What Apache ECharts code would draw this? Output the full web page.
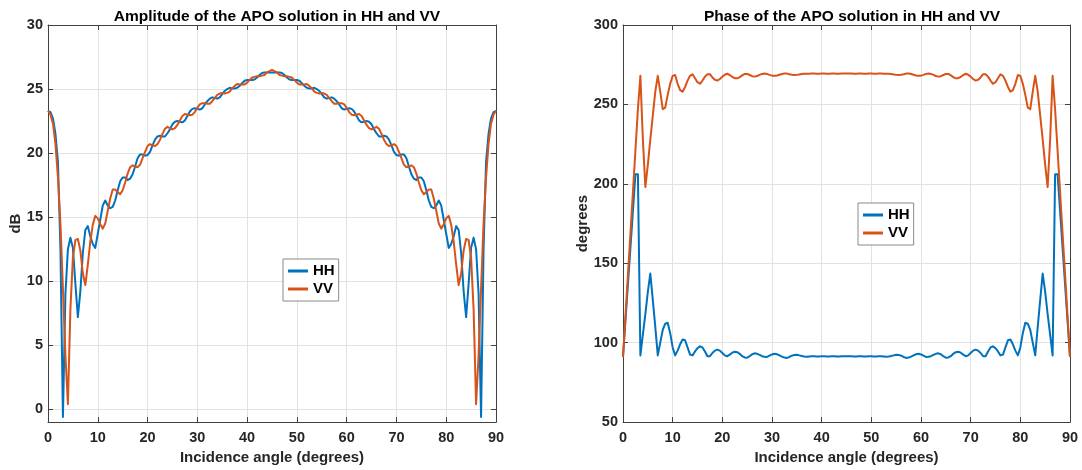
<!DOCTYPE html>
<html><head><meta charset="utf-8">
<script src="https://cdn.jsdelivr.net/npm/echarts@6/dist/echarts.min.js"></script>
<style>html,body{margin:0;padding:0;background:#fff}#c{width:1082px;height:470px}</style>
</head><body><div id="c"></div>
<script>
// Incidence angle (degrees)
const angles = [
0,0.5,1,1.5,2,2.5,3,3.5,4,4.5,5,5.5,6,6.5,7,7.5,8,8.5,9,9.5,
10,10.5,11,11.5,12,12.5,13,13.5,14,14.5,15,15.5,16,16.5,17,17.5,18,18.5,19,19.5,
20,20.5,21,21.5,22,22.5,23,23.5,24,24.5,25,25.5,26,26.5,27,27.5,28,28.5,29,29.5,
30,30.5,31,31.5,32,32.5,33,33.5,34,34.5,35,35.5,36,36.5,37,37.5,38,38.5,39,39.5,
40,40.5,41,41.5,42,42.5,43,43.5,44,44.5,45,45.5,46,46.5,47,47.5,48,48.5,49,49.5,
50,50.5,51,51.5,52,52.5,53,53.5,54,54.5,55,55.5,56,56.5,57,57.5,58,58.5,59,59.5,
60,60.5,61,61.5,62,62.5,63,63.5,64,64.5,65,65.5,66,66.5,67,67.5,68,68.5,69,69.5,
70,70.5,71,71.5,72,72.5,73,73.5,74,74.5,75,75.5,76,76.5,77,77.5,78,78.5,79,79.5,
80,80.5,81,81.5,82,82.5,83,83.5,84,84.5,85,85.5,86,86.5,87,87.5,88,88.5,89,89.5,90];

// Amplitude (dB)
const ampHH = [
23.3,23.2,22.7,21.5,19.3,12.5,-0.6,9.0,12.5,13.4,12.6,9.8,7.2,9.2,12.2,14.0,14.3,13.5,12.9,12.6,
13.7,14.8,15.9,16.3,15.9,15.7,15.8,16.3,17.1,17.8,18.1,18.1,17.9,18.0,18.35,18.95,19.6,19.9,19.9,19.8,
19.85,20.1,20.6,21.05,21.3,21.35,21.3,21.3,21.55,21.85,22.25,22.45,22.5,22.45,22.4,22.55,22.9,23.25,23.45,23.5,
23.45,23.4,23.5,23.8,24.05,24.25,24.35,24.3,24.25,24.35,24.6,24.85,25.0,25.1,25.05,25.05,25.1,25.25,25.45,25.65,
25.7,25.7,25.7,25.75,25.9,26.1,26.25,26.3,26.3,26.3,26.3,
26.3,26.3,26.3,26.25,26.1,25.9,25.75,25.7,25.7,25.7,25.65,25.45,25.25,25.1,25.05,25.05,25.1,25.0,24.85,24.6,
24.35,24.25,24.3,24.35,24.25,24.05,23.8,23.5,23.4,23.45,23.5,23.45,23.25,22.9,22.55,22.4,22.45,22.5,22.45,22.25,
21.85,21.55,21.3,21.3,21.35,21.3,21.05,20.6,20.1,19.85,19.8,19.9,19.9,19.6,18.95,18.35,18.0,17.9,18.1,18.1,
17.8,17.1,16.3,15.8,15.7,15.9,16.3,15.9,14.8,13.7,12.6,12.9,13.5,14.3,14.0,12.2,9.2,7.2,9.8,12.6,
13.4,12.5,9.0,-0.6,12.5,19.3,21.5,22.7,23.2,23.3];

const ampVV = [
23.3,23.0,22.3,20.7,18.1,14.5,9.4,4.2,0.4,7.8,11.8,13.2,13.3,12.4,10.6,9.7,11.3,13.1,14.4,15.1,
14.9,14.45,14.1,14.5,15.5,16.45,17.15,17.15,16.95,16.8,17.1,17.7,18.4,18.9,19.05,18.95,18.9,19.1,19.6,20.1,
20.55,20.7,20.6,20.55,20.7,21.05,21.5,21.9,22.05,21.95,21.85,21.95,22.2,22.55,22.9,23.05,23.0,22.95,23.0,23.2,
23.55,23.8,23.9,23.9,23.85,23.85,24.05,24.3,24.55,24.65,24.7,24.65,24.7,24.8,25.05,25.25,25.4,25.35,25.35,25.35,
25.5,25.7,25.9,25.95,26.0,26.0,26.05,26.1,26.3,26.4,26.5,
26.4,26.3,26.1,26.05,26.0,26.0,25.95,25.9,25.7,25.5,25.35,25.35,25.35,25.4,25.25,25.05,24.8,24.7,24.65,24.7,
24.65,24.55,24.3,24.05,23.85,23.85,23.9,23.9,23.8,23.55,23.2,23.0,22.95,23.0,23.05,22.9,22.55,22.2,21.95,21.85,
21.95,22.05,21.9,21.5,21.05,20.7,20.55,20.6,20.7,20.55,20.1,19.6,19.1,18.9,18.95,19.05,18.9,18.4,17.7,17.1,
16.8,16.95,17.15,17.15,16.45,15.5,14.5,14.1,14.45,14.9,15.1,14.4,13.1,11.3,9.7,10.6,12.4,13.3,13.2,11.8,
7.8,0.4,4.2,9.4,14.5,18.1,20.7,22.3,23.0,23.3];

// Phase (degrees)
const phaseHH = [
91,114,137,160,183,206,206,92,105,118,132,143.5,127,110,92,100,108,112,112.5,106,
97,92,95,99,102,101.5,97,92.5,92,94.5,96.5,97.7,97,94.5,91.5,91.5,93.5,95,95.6,95,
93.5,92,91.5,92.5,93.7,94.3,94,93,91.5,90.7,90.5,91.5,92.7,93.3,93,92.3,91.5,91.1,91,91.8,
92.6,93,92.7,92,91.2,90.6,90.4,91,91.8,92.3,92.4,92,91.6,91.3,91.2,91.3,91.4,91.4,91.3,91.3,
91.4,91.4,91.3,91.3,91.4,91.4,91.3,91.3,91.4,91.4,91.4,
91.4,91.4,91.3,91.3,91.4,91.4,91.3,91.3,91.4,91.4,91.3,91.3,91.4,91.4,91.3,91.2,91.3,91.6,92,92.4,
92.3,91.8,91,90.4,90.6,91.2,92,92.7,93,92.6,91.8,91,91.1,91.5,92.3,93,93.3,92.7,91.5,90.5,
90.7,91.5,93,94,94.3,93.7,92.5,91.5,92,93.5,95,95.6,95,93.5,91.5,91.5,94.5,97,97.7,96.5,
94.5,92,92.5,97,101.5,102,99,95,92,97,106,112.5,112,108,100,92,110,127,143.5,132,
118,105,92,206,206,183,160,137,114,91];

const phaseVV = [
91,117,143,169,195,221,247,268,228,198,212,228,243,258,268,258,247,248,256,263,
268,268.5,263,259,258,261,265,268,269,266.5,264,263,265,267.5,269,269,267,265.5,265,266,
267.5,268.7,269.3,268.5,267.3,266.5,266.4,267.2,268.3,269.2,269.2,268.5,267.8,267.5,267.9,268.6,269.2,269.5,269.2,268.6,
268.1,268,268.2,268.7,269.2,269.5,269.4,269,268.7,268.5,268.6,268.9,269.2,269.3,269.3,269.3,269.4,269.4,269.3,269.3,
269.4,269.4,269.3,269.3,269.4,269.4,269.3,269.3,269.4,269.4,269.4,
269.4,269.4,269.3,269.3,269.4,269.4,269.3,269.3,269.4,269.4,269.3,269.3,269.4,269.4,269.3,269.3,269.3,269.2,268.9,268.6,
268.5,268.7,269,269.4,269.5,269.2,268.7,268.2,268,268.1,268.6,269.2,269.5,269.2,268.6,267.9,267.5,267.8,268.5,269.2,
269.2,268.3,267.2,266.4,266.5,267.3,268.5,269.3,268.7,267.5,266,265,265.5,267,269,269,267.5,265,263,264,
266.5,269,268,265,261,258,259,263,268.5,268,263,256,248,247,258,268,258,243,228,212,
198,228,268,247,221,195,169,143,117,91];

const FONT = "'Liberation Sans', Arial, Helvetica, sans-serif";
const AX = '#404040';
const TXT = '#262626';
const GRIDC = '#e2e2e2';
const BLUE = '#0072BD';
const ORANGE = '#D95319';

function pairs(y) { return angles.map((a, i) => [a, y[i]]); }

function xMain(gi) {
  return {
    type: 'value', gridIndex: gi, min: 0, max: 90, interval: 10, position: 'bottom',
    name: 'Incidence angle (degrees)', nameLocation: 'middle', nameGap: 27,
    nameTextStyle: { fontFamily: FONT, fontSize: 15, fontWeight: 'bold', color: TXT },
    axisLine: { show: true, onZero: false, lineStyle: { color: AX, width: 1 } },
    axisTick: { show: true, inside: true, length: 5, lineStyle: { color: AX } },
    axisLabel: { show: true, margin: 8, fontFamily: FONT, fontSize: 14.5, fontWeight: 'bold', color: TXT },
    splitLine: { show: true, lineStyle: { color: GRIDC, width: 1 } }
  };
}
function xTop(gi) {
  return {
    type: 'value', gridIndex: gi, min: 0, max: 90, interval: 10, position: 'top',
    axisLine: { show: true, onZero: false, lineStyle: { color: AX, width: 1 } },
    axisTick: { show: true, inside: true, length: 5, lineStyle: { color: AX } },
    axisLabel: { show: false }, splitLine: { show: false }
  };
}
function yMain(gi, ext, name, gap) {
  return Object.assign({
    type: 'value', gridIndex: gi, position: 'left',
    name: name, nameLocation: 'middle', nameGap: gap,
    nameTextStyle: { fontFamily: FONT, fontSize: 15, fontWeight: 'bold', color: TXT },
    axisLine: { show: true, onZero: false, lineStyle: { color: AX, width: 1 } },
    axisTick: { show: true, inside: true, length: 5, lineStyle: { color: AX } },
    axisLabel: { show: true, margin: 5, fontFamily: FONT, fontSize: 14.5, fontWeight: 'bold', color: TXT,
      formatter: v => (v < 0 ? '' : String(v)) },
    splitLine: { show: true, lineStyle: { color: GRIDC, width: 1 } }
  }, ext);
}
function yRight(gi, ext) {
  return Object.assign({
    type: 'value', gridIndex: gi, position: 'right',
    axisLine: { show: true, onZero: false, lineStyle: { color: AX, width: 1 } },
    axisTick: { show: true, inside: true, length: 5, lineStyle: { color: AX } },
    axisLabel: { show: false }, splitLine: { show: false }
  }, ext);
}
function legendAt(left, top) {
  return {
    data: ['HH', 'VV'], orient: 'vertical', left: left, top: top,
    icon: 'rect', itemWidth: 20, itemHeight: 3, itemGap: 2,
    padding: [4, 4, 4, 5], borderColor: '#8a8a8a', borderWidth: 1, backgroundColor: '#fff',
    textStyle: { fontFamily: FONT, fontSize: 15, fontWeight: 'bold', color: '#000', lineHeight: 16 },
    selectedMode: false
  };
}
function lineSeries(name, color, xi, yi, data) {
  return {
    name: name, type: 'line', xAxisIndex: xi, yAxisIndex: yi, data: pairs(data),
    showSymbol: false, symbol: 'none', smooth: false, animation: false,
    lineStyle: { color: color, width: 2, join: 'round' }, itemStyle: { color: color }
  };
}

const ampExt = { min: -1, max: 30, splitNumber: 6 };
const phExt = { min: 50, max: 300, interval: 50 };

const option = {
  animation: false,
  backgroundColor: '#fff',
  title: [
    { text: 'Amplitude of the APO solution in HH and VV', left: 272, top: 4, textAlign: 'center',
      textStyle: { fontFamily: FONT, fontSize: 15.5, fontWeight: 'bold', color: '#000' } },
    { text: 'Phase of the APO solution in HH and VV', left: 847, top: 4, textAlign: 'center',
      textStyle: { fontFamily: FONT, fontSize: 15.5, fontWeight: 'bold', color: '#000' } }
  ],
  grid: [
    { left: 48, right: 586, top: 25, bottom: 47 },
    { left: 623, right: 12, top: 25, bottom: 47 }
  ],
  xAxis: [xMain(0), xTop(0), xMain(1), xTop(1)],
  yAxis: [yMain(0, ampExt, 'dB', 23), yRight(0, ampExt), yMain(1, phExt, 'degrees', 33), yRight(1, phExt)],
  legend: [legendAt(283, 259), legendAt(858, 203)],
  series: [
    lineSeries('HH', BLUE, 0, 0, ampHH),
    lineSeries('VV', ORANGE, 0, 0, ampVV),
    lineSeries('HH', BLUE, 2, 2, phaseHH),
    lineSeries('VV', ORANGE, 2, 2, phaseVV)
  ]
};
const chart = echarts.init(document.getElementById('c'), null, { renderer: 'canvas' });
chart.setOption(option);
</script>
</body></html>
